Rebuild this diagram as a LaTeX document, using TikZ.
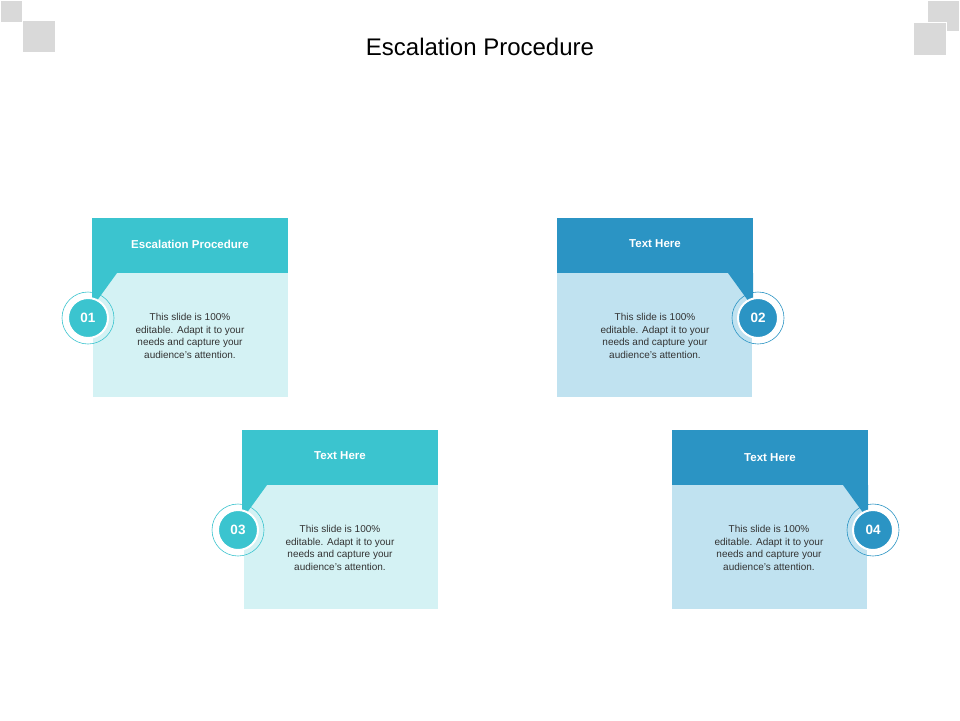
\documentclass[tikz,border=0pt]{standalone}
\usepackage{fontspec}
\setmainfont{Liberation Sans}
\begin{document}
\begin{tikzpicture}[x=1pt,y=-1pt,
  sq/.style={fill=black!15,draw=white,line width=1pt},
  hdr/.style={text=white,font=\bfseries\fontsize{11.5}{13}\selectfont},
  bod/.style={text=black!80,font=\fontsize{10}{12.5}\selectfont,align=center},
  num/.style={circle,minimum size=40pt,text=white,font=\bfseries\fontsize{13.5}{15}\selectfont,draw=white,line width=2pt}]
\definecolor{tealA}{HTML}{3BC4CF}\definecolor{tealB}{HTML}{D4F2F4}
\definecolor{blueA}{HTML}{2B94C4}\definecolor{blueB}{HTML}{C0E2F0}
\useasboundingbox[fill=white] (0,0) rectangle (960,720);
% corners
\draw[sq] (0,0) rectangle (22,22); \draw[sq] (22,20) rectangle (55,52);
\draw[sq] (927,0) rectangle (959,31); \draw[sq] (913,22) rectangle (946,55);
\node[font=\fontsize{24}{28}\selectfont] (title) at (480,47) {Escalation Procedure};
% card 1
\fill[tealB] (93,273) rectangle (288,397);
\fill[tealA] (92,218) rectangle (288,273);
\fill[tealA] (92,273) -- (117,273) -- (96,302) -- (92,302) -- cycle;
\node[hdr] (h1) at (190,244) {Escalation Procedure};
\node[bod] (b1) at (190,336) {This slide is 100\%\\editable. Adapt it to your\\needs and capture your\\audience's attention.};
\draw[tealA,line width=0.6pt] (88,318) circle (26);
\node[num,fill=tealA] (n1) at (88,318) {01};
% card 2
\fill[blueB] (557,273) rectangle (752,397);
\fill[blueA] (557,218) rectangle (753,273);
\fill[blueA] (728,273) -- (753,273) -- (753,302) -- (749,302) -- cycle;
\node[hdr] (h2) at (655,244) {Text Here};
\node[bod] (b2) at (655,336) {This slide is 100\%\\editable. Adapt it to your\\needs and capture your\\audience's attention.};
\draw[blueA,line width=0.6pt] (758,318) circle (26);
\node[num,fill=blueA] (n2) at (758,318) {02};
% card 3
\fill[tealB] (244,485) rectangle (438,609);
\fill[tealA] (242,430) rectangle (438,485);
\fill[tealA] (242,485) -- (267,485) -- (246,514) -- (242,514) -- cycle;
\node[hdr] (h3) at (340,456) {Text Here};
\node[bod] (b3) at (340,548) {This slide is 100\%\\editable. Adapt it to your\\needs and capture your\\audience's attention.};
\draw[tealA,line width=0.6pt] (238,530) circle (26);
\node[num,fill=tealA] (n3) at (238,530) {03};
% card 4
\fill[blueB] (672,485) rectangle (867,609);
\fill[blueA] (672,430) rectangle (868,485);
\fill[blueA] (843,485) -- (868,485) -- (868,514) -- (864,514) -- cycle;
\node[hdr] (h4) at (770,458) {Text Here};
\node[bod] (b4) at (769,548) {This slide is 100\%\\editable. Adapt it to your\\needs and capture your\\audience's attention.};
\draw[blueA,line width=0.6pt] (873,530) circle (26);
\node[num,fill=blueA] (n4) at (873,530) {04};
\end{tikzpicture}
\end{document}
